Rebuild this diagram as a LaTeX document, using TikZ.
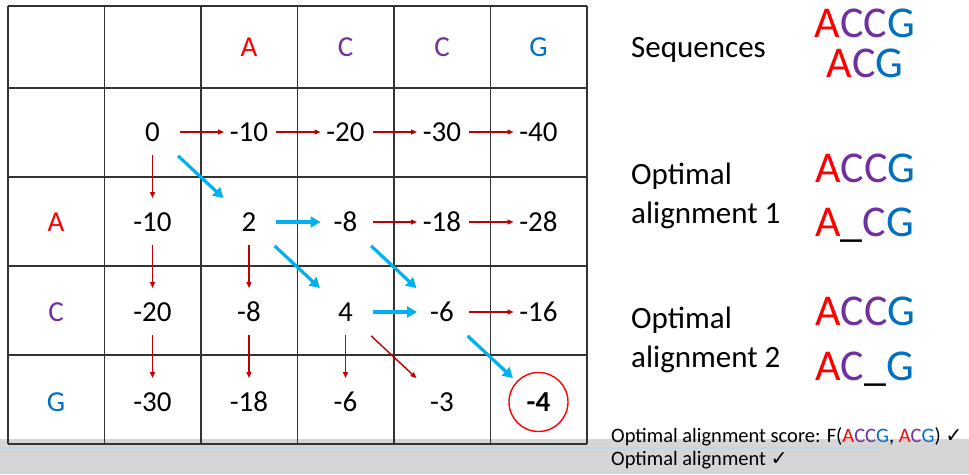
\documentclass[tikz,border=0pt]{standalone}
\usepackage{fontspec}
\setmainfont{Carlito}
\newfontfamily\checkfont{DejaVu Sans}
\usetikzlibrary{positioning,arrows.meta}
\definecolor{SeqRed}{HTML}{FF0000}
\definecolor{SeqPurple}{HTML}{7030A0}
\definecolor{SeqBlue}{HTML}{0070C0}
\definecolor{StepRed}{HTML}{C00000}
\definecolor{PathBlue}{HTML}{00B0F0}
\definecolor{BarGray}{HTML}{D6D6D6}
\definecolor{BarBlue}{HTML}{BCD6EE}
\newcommand{\bA}{\textcolor{SeqRed}{A}}
\newcommand{\bC}{\textcolor{SeqPurple}{C}}
\newcommand{\bG}{\textcolor{SeqBlue}{G}}

\begin{document}
\begin{tikzpicture}[x=1pt,y=-1pt,
      grid/.style={draw=black!80,line width=1.3pt},
      num/.style={font=\fontsize{29}{34}\selectfont,inner sep=0pt},
      side/.style={font=\fontsize{31}{37}\selectfont,anchor=base west,inner sep=0pt},
      seq/.style={font=\fontsize{44}{52}\selectfont,inner sep=0pt},
      note/.style={font=\fontsize{20.5}{24}\selectfont,anchor=base west,inner sep=0pt},
      across/.style={shorten <=27pt,shorten >=25pt},
      down/.style={shorten <=23pt,shorten >=24pt},
      diag/.style={shorten <=35pt,shorten >=35pt},
      redstep/.style={-{Triangle[length=6pt,width=5pt]},StepRed,line width=1.4pt},
      bluestep/.style={-{Triangle[length=10pt,width=11pt]},PathBlue,line width=3.2pt}]
    \useasboundingbox (0,0) rectangle (969,474);
    \fill[white] (0,0) rectangle (969,474);
    % player bar at the bottom
    \fill[BarGray] (0,439) rectangle (969,474);
    \draw[BarBlue,line width=1.2pt] (0,448) -- (880,448);

    % table
    \foreach \x in {8,104.5,201,297.5,394,490.5,587}
      \draw[grid] (\x,6) -- (\x,444);
    \foreach \y in {6,88,177,266,355,444}
      \draw[grid] (8,\y) -- (587,\y);

    \node[num] (h1) at (249,47) {\bA};
    \node[num] (h2) at (345.5,47) {\bC};
    \node[num] (h3) at (442,47) {\bC};
    \node[num] (h4) at (538.5,47) {\bG};
    \node[num] (v1) at (56,222) {\bA};
    \node[num] (v2) at (56,312) {\bC};
    \node[num] (v3) at (56,402) {\bG};

    \node[num] (s00) at (152.5,132) {0};
    \node[num] (s01) at (249,132) {-10};
    \node[num] (s02) at (345.5,132) {-20};
    \node[num] (s03) at (442,132) {-30};
    \node[num] (s04) at (538.5,132) {-40};
    \node[num] (s10) at (152.5,222) {-10};
    \node[num] (s11) at (249,222) {2};
    \node[num] (s12) at (345.5,222) {-8};
    \node[num] (s13) at (442,222) {-18};
    \node[num] (s14) at (538.5,222) {-28};
    \node[num] (s20) at (152.5,312) {-20};
    \node[num] (s21) at (249,312) {-8};
    \node[num] (s22) at (345.5,312) {4};
    \node[num] (s23) at (442,312) {-6};
    \node[num] (s24) at (538.5,312) {-16};
    \node[num] (s30) at (152.5,402) {-30};
    \node[num] (s31) at (249,402) {-18};
    \node[num] (s32) at (345.5,402) {-6};
    \node[num] (s33) at (442,402) {-3};
    \node[num,font=\fontsize{29}{34}\selectfont\bfseries,draw=SeqRed,circle,
      line width=1.4pt,minimum size=59pt] (s34) at (538.5,402) {-4};

    \draw[redstep,across] (s00.center) -- (s01.center);
    \draw[redstep,across] (s01.center) -- (s02.center);
    \draw[redstep,across] (s02.center) -- (s03.center);
    \draw[redstep,across] (s03.center) -- (s04.center);
    \draw[redstep,across] (s12.center) -- (s13.center);
    \draw[redstep,across] (s13.center) -- (s14.center);
    \draw[redstep,across] (s23.center) -- (s24.center);
    \draw[redstep,down] (s00.center) -- (s10.center);
    \draw[redstep,down] (s10.center) -- (s20.center);
    \draw[redstep,down] (s20.center) -- (s30.center);
    \draw[redstep,down] (s11.center) -- (s21.center);
    \draw[redstep,down] (s21.center) -- (s31.center);
    \draw[redstep,down] (s22.center) -- (s32.center);
    \draw[redstep,diag] (s22.center) -- (s33.center);
    % traceback path
    \draw[bluestep,diag] (s00.center) -- (s11.center);
    \draw[bluestep,across] (s11.center) -- (s12.center);
    \draw[bluestep,diag] (s11.center) -- (s22.center);
    \draw[bluestep,diag] (s12.center) -- (s23.center);
    \draw[bluestep,across] (s22.center) -- (s23.center);
    \draw[bluestep,diag] (s23.center) -- (s34.center);

    % right side
    \node[side] (seqlabel) at (631,57) {Sequences};
    \node[seq,anchor=base] (seqa) at (865,37) {\bA\bC\bC\bG};
    \node[seq,anchor=base] (seqb) at (865,77) {\bA\bC\bG};
    \node[side] (opt1a) at (631,184) {Optimal};
    \node[side] (opt1b) at (631,223) {alignment 1};
    \node[seq,anchor=base west] (al1a) at (815,182) {\bA\bC\bC\bG};
    \node[seq,anchor=base west] (al1b) at (815,236) {\bA\_\bC\bG};
    \node[side] (opt2a) at (631,328) {Optimal};
    \node[side] (opt2b) at (631,367) {alignment 2};
    \node[seq,anchor=base west] (al2a) at (815,325) {\bA\bC\bC\bG};
    \node[seq,anchor=base west] (al2b) at (815,380) {\bA\bC\_\bG};
    \node[note] (score) at (611,442) {Optimal alignment score: F(\bA\bC\bC\bG, \bA\bC\bG) {\checkfont ✓}};
    \node[note] (found) at (611,465) {Optimal alignment {\checkfont ✓}};
  \end{tikzpicture}
\end{document}
